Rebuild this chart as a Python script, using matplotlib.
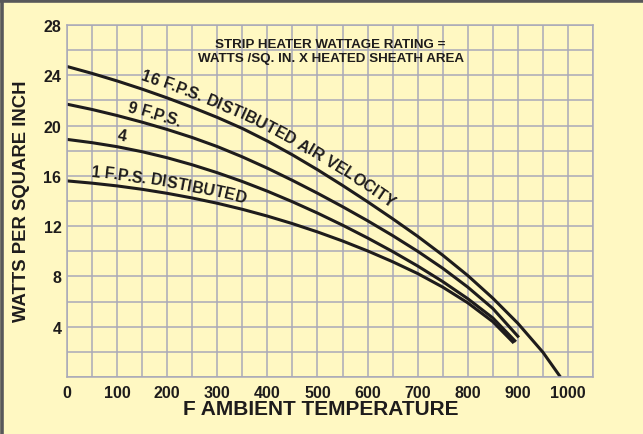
import numpy as np
import matplotlib.pyplot as plt
from matplotlib.lines import Line2D
from matplotlib.ticker import MultipleLocator

# curve data (deg F -> watts / sq. in.)
temp_16 = [0, 50, 100, 150, 200, 250, 300, 350, 400, 450, 500, 550, 600, 650, 700,
           750, 800, 850, 900, 950, 985]
watts_16 = [24.7, 24.15, 23.55, 22.9, 22.2, 21.45, 20.65, 19.77, 18.77, 17.67, 16.49,
            15.24, 13.94, 12.59, 11.19, 9.69, 8.07, 6.27, 4.27, 1.97, 0.0]

temp_9 = [0, 50, 100, 150, 200, 250, 300, 350, 400, 450, 500, 550, 600, 650, 700,
          750, 800, 850, 902]
watts_9 = [21.7, 21.28, 20.8, 20.27, 19.69, 19.05, 18.33, 17.51, 16.61, 15.64, 14.62,
           13.55, 12.43, 11.25, 10.0, 8.65, 7.15, 5.45, 3.15]

temp_4 = [0, 50, 100, 150, 200, 250, 300, 350, 400, 450, 500, 550, 600, 650, 700,
          750, 800, 850, 896]
watts_4 = [18.9, 18.64, 18.32, 17.92, 17.44, 16.88, 16.25, 15.55, 14.78, 13.94, 13.04,
           12.08, 11.06, 9.98, 8.83, 7.59, 6.23, 4.7, 2.8]

temp_1 = [0, 50, 100, 150, 200, 250, 300, 350, 400, 450, 500, 550, 600, 650, 700,
          750, 800, 850, 892]
watts_1 = [15.6, 15.42, 15.2, 14.93, 14.61, 14.24, 13.82, 13.34, 12.8, 12.2, 11.54,
           10.82, 10.03, 9.17, 8.23, 7.15, 5.9, 4.4, 2.7]

x_ticks = list(range(0, 1001, 100))
y_ticks = [4, 8, 12, 16, 20, 24, 28]

BG = "#fff8c2"
GRID = "#a9a9b8"
INK = "#1e1c1c"

fig = plt.figure(figsize=(6.43, 4.35), dpi=100, facecolor=BG)
ax = fig.add_axes([67 / 643, 1 - 378 / 435, 526 / 643, 352 / 435])
ax.set_facecolor(BG)
ax.set_xlim(0, 1050)
ax.set_ylim(0, 28)

ax.set_xticks(x_ticks)
ax.set_yticks(y_ticks)
ax.xaxis.set_minor_locator(MultipleLocator(50))
ax.yaxis.set_minor_locator(MultipleLocator(2))
ax.grid(which="both", color=GRID, lw=1.1)
ax.set_axisbelow(True)
ax.tick_params(which="both", length=0)
ax.tick_params(axis="x", pad=6)
ax.tick_params(axis="y", pad=4)
for lab in ax.get_xticklabels() + ax.get_yticklabels():
    lab.set_fontfamily("Liberation Sans")
    lab.set_fontweight("bold")
    lab.set_fontsize(11.5)
    lab.set_color(INK)
for sp in ax.spines.values():
    sp.set_color(GRID)
    sp.set_linewidth(1.1)

for xs, ys in [(temp_16, watts_16), (temp_9, watts_9), (temp_4, watts_4), (temp_1, watts_1)]:
    ax.plot(xs, ys, color=INK, lw=2.2, solid_capstyle="butt", solid_joinstyle="round")

ax.set_xlabel("F AMBIENT TEMPERATURE", fontfamily="Liberation Sans", fontweight="bold",
              fontsize=15, color=INK, va="center")
ax.xaxis.set_label_coords((321 - 67) / 526, (378 - 410) / 352)
ax.set_ylabel("WATTS PER SQUARE INCH", fontfamily="Liberation Sans", fontweight="bold",
              fontsize=13.3, color=INK, va="center")
ax.yaxis.set_label_coords((22 - 67) / 526, (378 - 201) / 352)

note = dict(fontfamily="Liberation Sans", fontweight="bold", fontsize=9.6, color=INK,
            ha="center", va="center", transform=ax.transAxes)
ax.text((330 - 67) / 526, (378 - 45) / 352, "STRIP HEATER WATTAGE RATING =", **note)
ax.text((331 - 67) / 526, (378 - 59) / 352, "WATTS /SQ. IN. X HEATED SHEATH AREA", **note)

renderer = fig.canvas.get_renderer()


def curve_text(xs, ys, text, x_start, offset, size):
    """Write text letter by letter along a curve, baseline offset px above it."""
    pts = ax.transData.transform(np.column_stack([xs, ys]))
    seg = np.hypot(np.diff(pts[:, 0]), np.diff(pts[:, 1]))
    s = np.concatenate([[0], np.cumsum(seg)])
    start = ax.transData.transform((x_start, np.interp(x_start, xs, ys)))
    s0 = np.interp(start[0], pts[:, 0], s)
    probe = ax.text(0, 0, "", fontfamily="Liberation Sans", fontweight="bold", fontsize=size)
    prop = probe.get_fontproperties()
    probe.remove()
    for i, ch in enumerate(text):
        w0 = renderer.get_text_width_height_descent(text[:i], prop, ismath=False)[0] if i else 0
        w1 = renderer.get_text_width_height_descent(text[:i + 1], prop, ismath=False)[0]
        sc = s0 + (w0 + w1) / 2
        # tangent averaged over a short stretch so letters turn smoothly
        a = np.array([np.interp(sc - 12, s, pts[:, 0]), np.interp(sc - 12, s, pts[:, 1])])
        b = np.array([np.interp(sc + 12, s, pts[:, 0]), np.interp(sc + 12, s, pts[:, 1])])
        t = (b - a) / np.hypot(*(b - a))
        px = np.interp(sc, s, pts[:, 0])
        py = np.interp(sc, s, pts[:, 1])
        nx, ny = -t[1], t[0]
        pos = ax.transData.inverted().transform((px + nx * offset, py + ny * offset))
        ax.text(pos[0], pos[1], ch, fontfamily="Liberation Sans", fontweight="bold",
                fontsize=size, color=INK, rotation=np.degrees(np.arctan2(t[1], t[0])),
                rotation_mode="anchor", ha="center", va="baseline")


curve_text(temp_16, watts_16, "16 F.P.S. DISTIBUTED AIR VELOCITY", 140, 9, 11.5)
curve_text(temp_9, watts_9, "9 F.P.S.", 116, 7, 11.5)
curve_text(temp_4, watts_4, "4", 96, 7, 11.5)
curve_text(temp_1, watts_1, "1 F.P.S. DISTIBUTED", 46, 7, 11.5)

# frame edges on the left and top of the panel
fig.add_artist(Line2D([1.5 / 643, 1.5 / 643], [0, 1 - 1.5 / 435], color="#58585a", lw=2.6,
                      transform=fig.transFigure))
fig.add_artist(Line2D([0, 1], [1 - 1.5 / 435, 1 - 1.5 / 435], color="#58585a", lw=2.6,
                      transform=fig.transFigure))

fig.savefig("out.png", dpi=100, facecolor=BG)
